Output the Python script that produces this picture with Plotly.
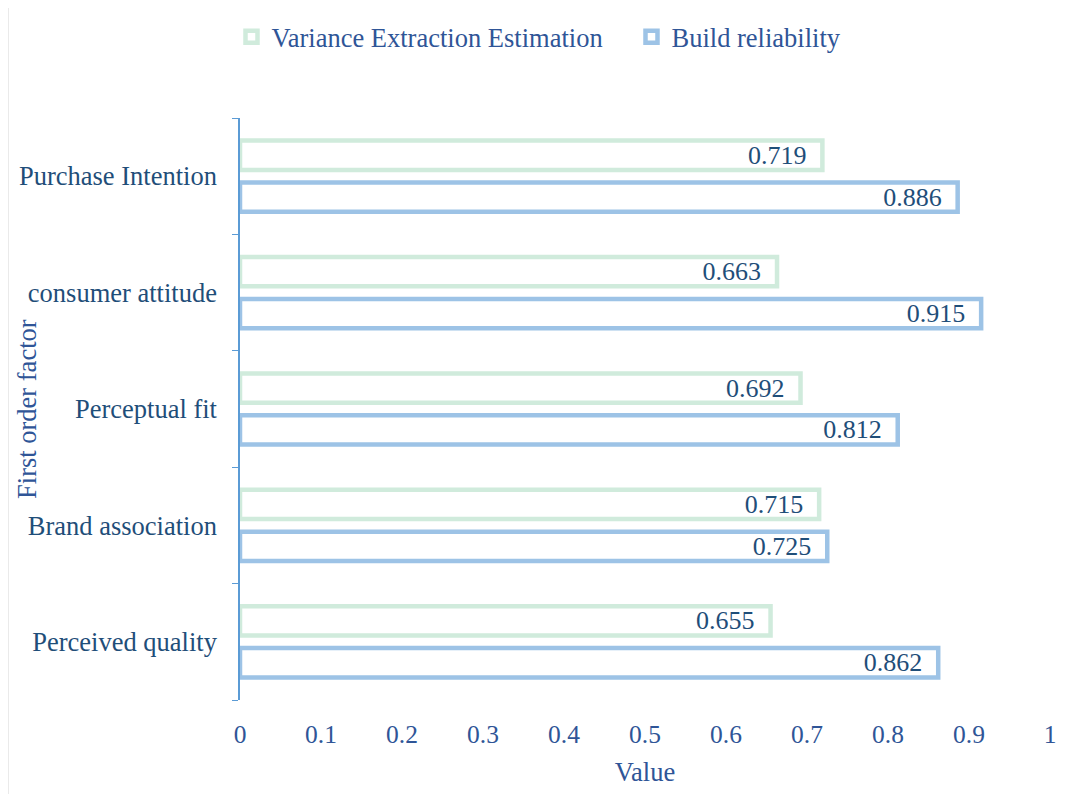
import plotly.graph_objects as go

categories = ["Perceived quality", "Brand association", "Perceptual fit", "consumer attitude", "Purchase Intention"]
variance_extraction = [0.655, 0.715, 0.692, 0.663, 0.719]
build_reliability = [0.862, 0.725, 0.812, 0.915, 0.886]
x_ticks = [0, 0.1, 0.2, 0.3, 0.4, 0.5, 0.6, 0.7, 0.8, 0.9, 1]
x_tick_labels = ["0", "0.1", "0.2", "0.3", "0.4", "0.5", "0.6", "0.7", "0.8", "0.9", "1"]

dark_blue = "#1f4e79"
mid_blue = "#2f5597"
font_family = "Liberation Serif, Times New Roman, serif"
pad = "\u00a0\u00a0"

fig = go.Figure()
fig.add_trace(go.Bar(
    y=categories, x=build_reliability, orientation="h", name="Build reliability",
    marker=dict(color="white", line=dict(color="#9dc3e6", width=4.5)),
    text=[f"{v:.3f}{pad}" for v in build_reliability], textposition="inside",
    insidetextanchor="end", constraintext="none",
    textfont=dict(size=26, color=dark_blue, family=font_family),
    legendrank=2,
))
fig.add_trace(go.Bar(
    y=categories, x=variance_extraction, orientation="h", name="Variance Extraction Estimation",
    marker=dict(color="white", line=dict(color="#d0ebdc", width=4.5)),
    text=[f"{v:.3f}{pad}" for v in variance_extraction], textposition="inside",
    insidetextanchor="end", constraintext="none",
    textfont=dict(size=26, color=dark_blue, family=font_family),
    legendrank=1,
))

fig.update_layout(
    width=1068, height=794,
    barmode="group", bargap=0.28, bargroupgap=0.30,
    plot_bgcolor="white", paper_bgcolor="white",
    margin=dict(l=232, r=26, t=110, b=102, autoexpand=False),
    font=dict(family=font_family, color=mid_blue, size=26),
    legend=dict(orientation="h", x=-0.0105, xanchor="left", y=1.139, yanchor="middle",
                font=dict(size=26.5, color=mid_blue, family=font_family),
                itemwidth=30, traceorder="normal", entrywidth=355, entrywidthmode="pixels"),
    xaxis=dict(range=[0, 1], tickvals=x_ticks, ticktext=x_tick_labels, automargin=False,
               showgrid=False, zeroline=False, showline=False, ticks="",
               ticklabelstandoff=16,
               tickfont=dict(size=25.5, color=mid_blue, family=font_family),
               title=dict(text="Value", font=dict(size=26.5, color=mid_blue, family=font_family), standoff=14)),
    yaxis=dict(showline=True, linecolor="#5b9bd5", linewidth=1.5, automargin=False,
               ticks="outside", tickson="boundaries", ticklen=6, tickcolor="#5b9bd5",
               ticklabelstandoff=16,
               showgrid=False, tickfont=dict(size=26.5, color=dark_blue, family=font_family)),
)
fig.add_annotation(text="First order factor", xref="paper", yref="paper", x=-0.263, y=0.5,
                   xanchor="center", yanchor="middle", textangle=-90, showarrow=False,
                   font=dict(size=26.5, color=mid_blue, family=font_family))
fig.add_shape(type="line", xref="paper", yref="paper", x0=-0.286, x1=-0.286, y0=-0.18, y1=1.2,
              line=dict(color="#e6e6e6", width=1))
fig.write_html("out.html")
